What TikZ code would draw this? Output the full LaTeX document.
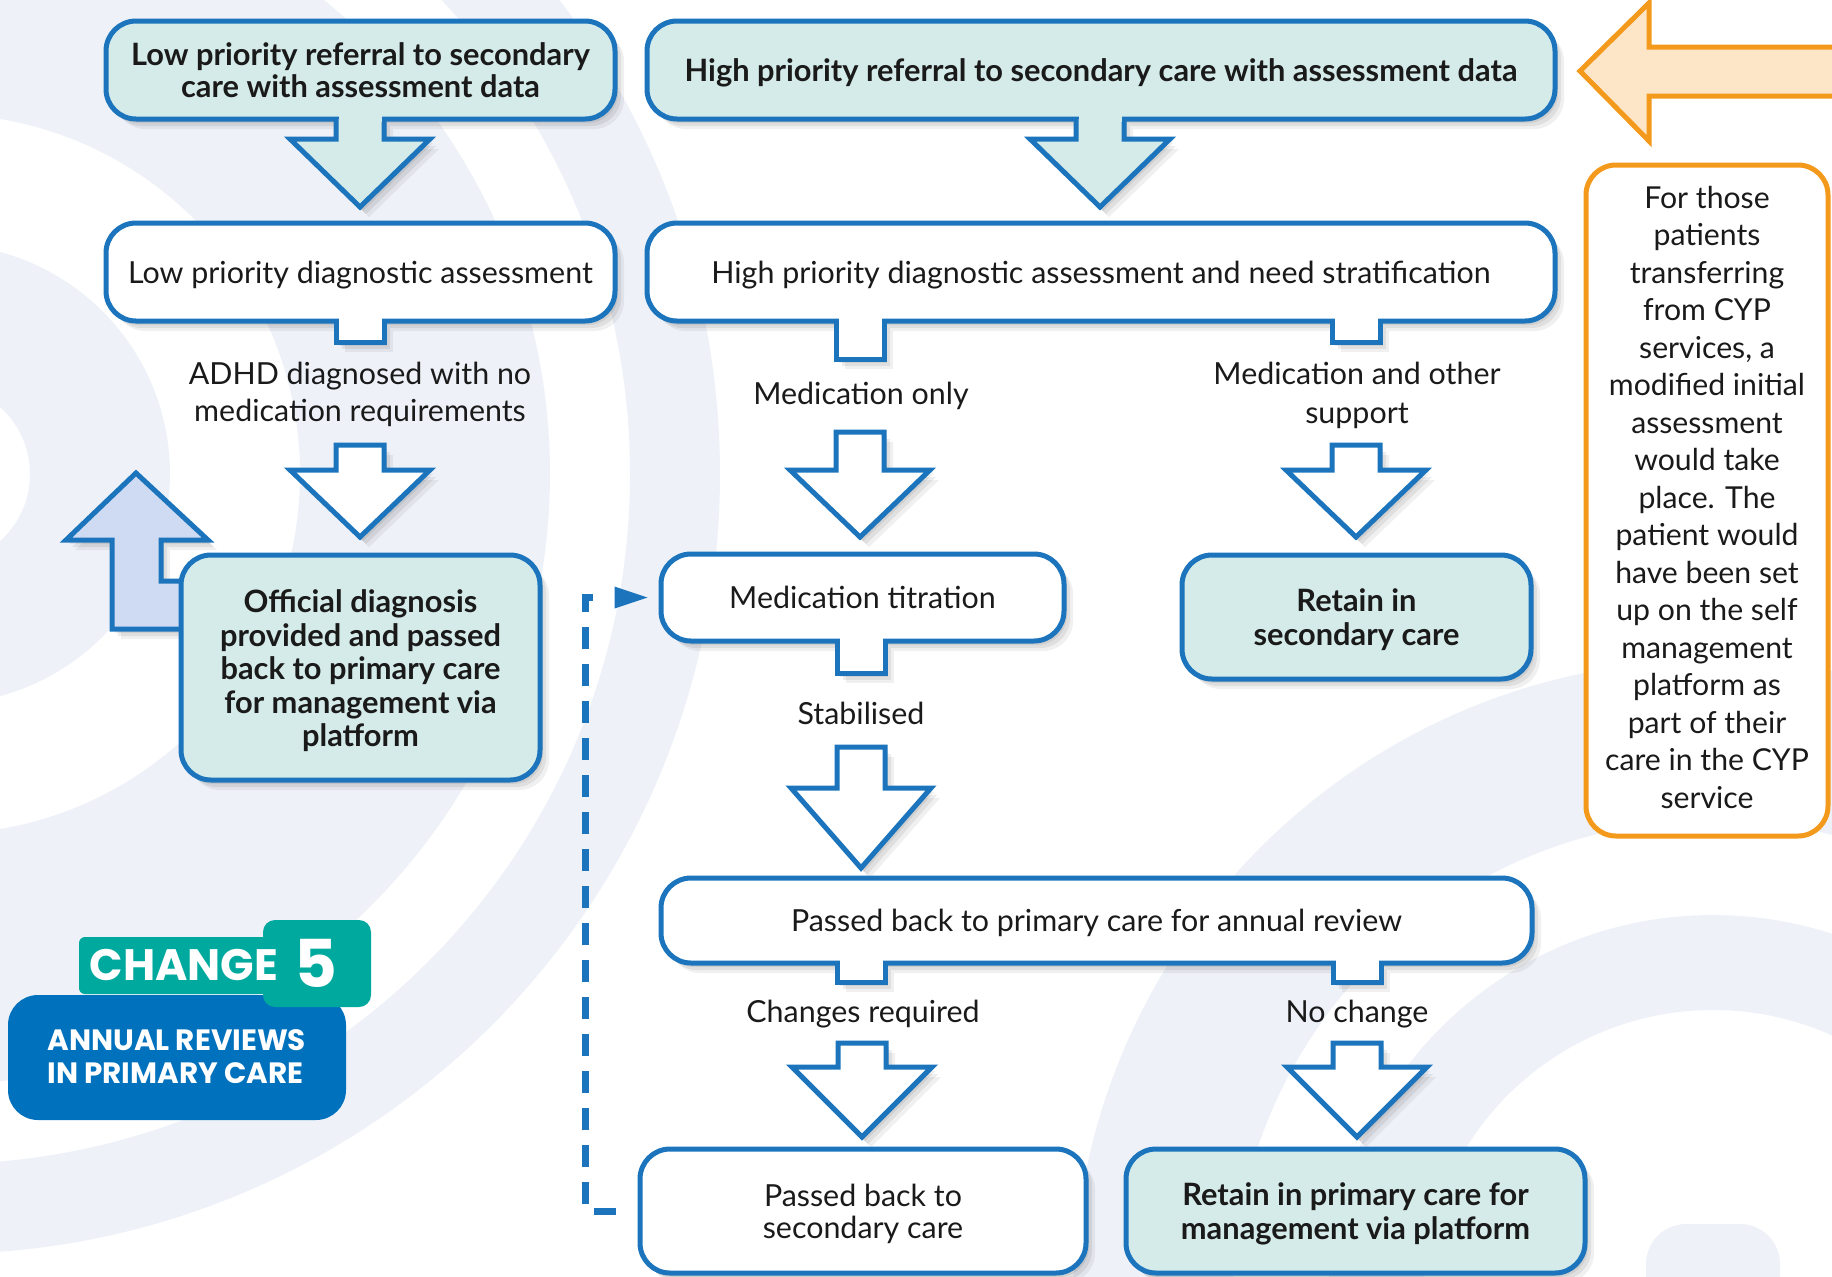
\documentclass[tikz,border=0pt]{standalone}
\usepackage{fontspec}
\setmainfont{Lato}
\newfontfamily\badgefont{Poppins}
\usetikzlibrary{shadows,calc}
\definecolor{bxblue}{HTML}{1C75BC}
\definecolor{bxteal}{HTML}{D5EBE9}
\definecolor{bglite}{HTML}{EEF2F8}
\definecolor{lav}{HTML}{CFDBF2}
\definecolor{orng}{HTML}{F39A1C}
\definecolor{orfill}{HTML}{FDE5C7}
\definecolor{badgeteal}{HTML}{00A99D}
\definecolor{badgeblue}{HTML}{0071BC}
\definecolor{txt}{HTML}{1A1A1A}
\newcommand\regfont{\fontsize{15.2}{16}\selectfont}
\newcommand\boldfont{\bfseries\fontsize{15.4}{16}\selectfont}
\tikzset{
  softshadow/.style={
    drop shadow={shadow xshift=1.5pt, shadow yshift=-2pt, opacity=0.07, fill=black},
    drop shadow={shadow xshift=3pt, shadow yshift=-3.5pt, opacity=0.07, fill=black},
    drop shadow={shadow xshift=4.5pt, shadow yshift=-5pt, opacity=0.06, fill=black}},
  boxbase/.style={draw=bxblue, line width=2.5pt, rounded corners=15pt, inner sep=0pt, align=center, text=txt, text depth=0pt, softshadow},
  whitebox/.style={boxbase, fill=white, font=\regfont},
  tealbox/.style={boxbase, fill=bxteal, font=\boldfont},
  blockarrow/.style={draw=bxblue, line width=2.5pt, line join=miter},
  lbl/.style={text=txt, align=center, inner sep=0pt},
}
\newcommand\tabdown[4]{% cx, ytop, ybottom, fill
  \filldraw[blockarrow, softshadow, fill=#4] ({#1-24},#2) -- ({#1-24},#3) -- ({#1+24},#3) -- ({#1+24},#2);
  \fill[#4] ({#1-21.5},{#2-4}) rectangle ({#1+21.5},{#2+3});}
\newcommand\attarrow[5]{% cx, ytop, base, tip, fill
  \filldraw[blockarrow, softshadow, fill=#5] ({#1-24},#2) -- ({#1-24},#3) -- ({#1-70},#3) -- (#1,#4) -- ({#1+70},#3) -- ({#1+24},#3) -- ({#1+24},#2);
  \fill[#5] ({#1-21.5},{#2-4}) rectangle ({#1+21.5},{#2+3});}
\newcommand\freearrow[4]{% cx, ytop, base, tip
  \filldraw[blockarrow, softshadow, fill=white] ({#1-24},#2) -- ({#1-24},#3) -- ({#1-70},#3) -- (#1,#4) -- ({#1+70},#3) -- ({#1+24},#3) -- ({#1+24},#2) -- cycle;}
\begin{document}
\begin{tikzpicture}[x=0.5pt, y=-0.5pt]
\useasboundingbox (0,0) rectangle (1832,1276);
\fill[white] (0,0) rectangle (1832,1276);
\begin{scope}
\clip (0,0) rectangle (1832,1276);
% background rings
\fill[bglite, even odd rule] (-60,474) circle[radius=780] circle[radius=690] circle[radius=610] circle[radius=360] circle[radius=230] circle[radius=90];
\fill[bglite, even odd rule] (1713,1300) circle[radius=640] circle[radius=480] circle[radius=385] circle[radius=290];
\fill[bglite, rounded corners=20pt] (1646,1224) rectangle (1780,1360);
% orange arrow
\filldraw[draw=orng, fill=orfill, line width=2.5pt, line join=miter] (1850,47) -- (1649,47) -- (1649,3) -- (1580,71) -- (1649,141) -- (1649,96) -- (1850,96);
\end{scope}

% up arrow (behind official diagnosis box)
\filldraw[blockarrow, softshadow, fill=lav] (112,629) -- (112,540) -- (66,540) -- (136,473) -- (208,540) -- (161,540) -- (161,581) -- (220,581) -- (220,629) -- cycle;

% row 1
\node[tealbox] (lowref) at (360.5,70) [minimum width=254.5pt, minimum height=49pt] {Low priority referral to secondary\\care with assessment data};
\node[tealbox] (highref) at (1101,70) [minimum width=454pt, minimum height=49pt] {High priority referral to secondary care with assessment data};
\attarrow{360}{119}{139}{207}{bxteal}
\attarrow{1100}{119}{139}{207}{bxteal}

% row 2
\node[whitebox] (lowdiag) at (360.5,272) [minimum width=254.5pt, minimum height=49pt] {Low priority diagnostic assessment};
\node[whitebox] (highdiag) at (1101,272) [minimum width=454pt, minimum height=49pt] {High priority diagnostic assessment and need stratification};
\tabdown{360}{321}{342}{white}
\tabdown{860}{321}{359}{white}
\tabdown{1356}{321}{342}{white}

\node[lbl, font=\fontsize{15.2}{18.5}\selectfont] (adhd) at (360,394) {ADHD diagnosed with no\\medication requirements};
\node[lbl, font=\fontsize{15.2}{18.5}\selectfont] (medonly) at (861,396) {Medication only};
\node[lbl, font=\fontsize{15.2}{19.5}\selectfont] (medother) at (1357,395) {Medication and other\\support};
\freearrow{360}{445}{470}{537}
\freearrow{860}{432}{470}{537}
\freearrow{1356}{445}{470}{537}

% row 3
\node[tealbox] (offdiag) at (360.5,667.5) [minimum width=179.5pt, minimum height=112.5pt] {};
\node[lbl, font=\bfseries\fontsize{15.4}{16.75}\selectfont] (offdiagtext) at (360.5,671) {Official diagnosis\\provided and passed\\back to primary care\\for management via\\platform};
\node[whitebox] (medtit) at (862.5,597.5) [minimum width=201.5pt, minimum height=43.5pt] {Medication titration};
\node[tealbox, font=\bfseries\fontsize{15.4}{17}\selectfont] (retsec) at (1356.5,617) [minimum width=174.5pt, minimum height=62pt] {Retain in\\secondary care};
\tabdown{861}{641}{673}{white}
\node[lbl, font=\fontsize{15.2}{18.5}\selectfont] (stab) at (861,713) {Stabilised};
\freearrow{861}{747}{788}{868}

% row 4
\node[whitebox] (annual) at (1096.5,920.5) [minimum width=435.5pt, minimum height=42.5pt] {Passed back to primary care for annual review};
\tabdown{861}{963}{982}{white}
\tabdown{1357}{963}{982}{white}
\node[lbl, font=\fontsize{15.2}{18.5}\selectfont] (chgreq) at (863,1014) {Changes required};
\node[lbl, font=\fontsize{15.2}{18.5}\selectfont] (nochg) at (1357,1014) {No change};
\freearrow{862}{1043}{1067}{1137}
\freearrow{1357}{1043}{1067}{1137}

% row 5
\node[whitebox, font=\fontsize{15.2}{16}\selectfont] (pbs) at (863,1211) [minimum width=223pt, minimum height=62pt] {Passed back to\\secondary care};
\node[tealbox, font=\bfseries\fontsize{15.4}{17}\selectfont] (retprim) at (1355.5,1211) [minimum width=229.5pt, minimum height=62pt] {Retain in primary care for\\management via platform};

% dashed feedback connector
\draw[bxblue, line width=3.5pt, dash pattern=on 11pt off 7.5pt] ([xshift=-11pt]pbs.west) -- ++(-30,0) |- ([xshift=-30.5pt]medtit.west);
\fill[bxblue] ([xshift=-5.5pt]medtit.west) -- ++(-33,-11) -- ++(0,22) -- cycle;

% orange note box
\node[draw=orng, line width=2.5pt, rounded corners=15pt, fill=white, inner sep=0pt, minimum width=121pt, minimum height=335.5pt] (cyp) at (1707,500.5) {};
\node[text=txt, align=center, inner sep=0pt, font=\fontsize{15.1}{18.75}\selectfont] (cyptext) at (1707,497) {For those\\patients\\transferring\\from CYP\\services, a\\modified initial\\assessment\\would take\\place. The\\patient would\\have been set\\up on the self\\management\\platform as\\part of their\\care in the CYP\\service};

% badge
\fill[badgeblue, rounded corners=15pt] (8,995) rectangle (346,1120);
\fill[badgeteal, rounded corners=3pt] (79,937) rectangle (300,994);
\fill[badgeteal, rounded corners=6pt] (263,920) rectangle (371,1007);
\node[text=white, inner sep=0pt, font=\badgefont\bfseries\fontsize{22}{22}\selectfont] (chgword) at (184,965) {CHANGE};
\node[text=white, inner sep=0pt, font=\badgefont\bfseries\fontsize{33}{33}\selectfont] (chgnum) at (316,963) {5};
\node[text=white, inner sep=0pt, align=left, anchor=west, font=\badgefont\bfseries\fontsize{14.7}{16.5}\selectfont] (badgetxt) at (47,1057) {ANNUAL REVIEWS\\IN PRIMARY CARE};
\end{tikzpicture}
\end{document}
